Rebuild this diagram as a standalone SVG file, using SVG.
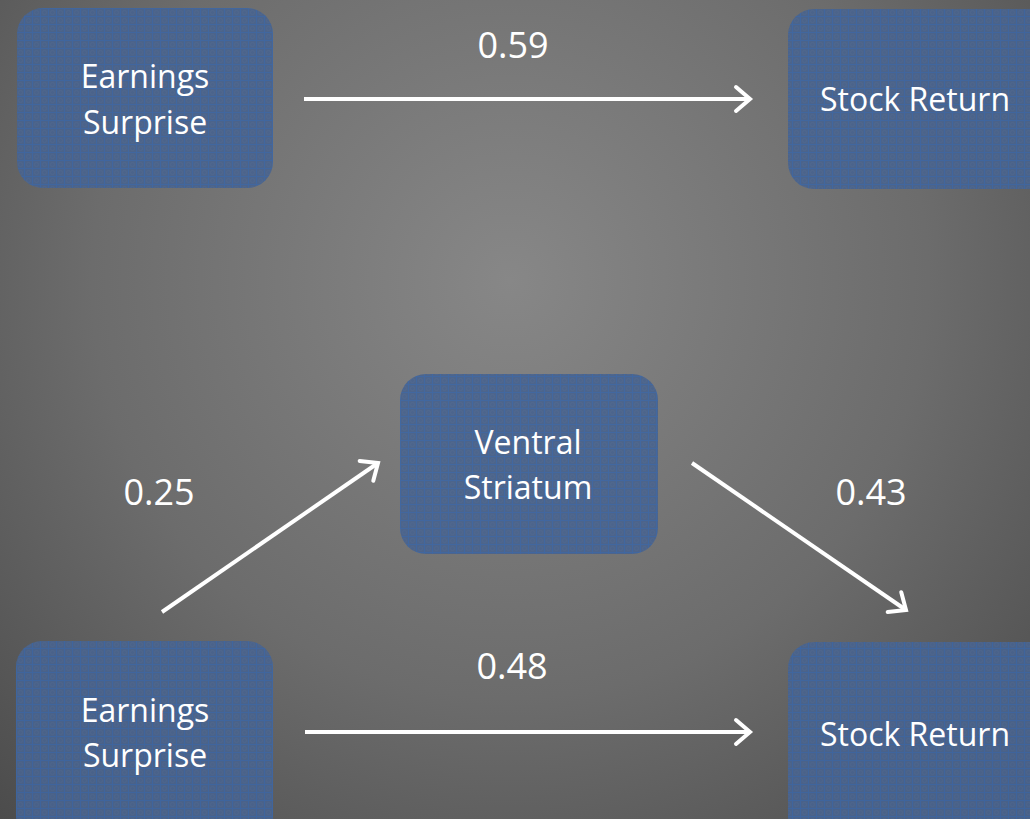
<svg xmlns="http://www.w3.org/2000/svg" width="1030" height="819" viewBox="0 0 1030 819">
<defs>
<radialGradient id="bg" cx="510" cy="280" r="760" gradientUnits="userSpaceOnUse">
<stop offset="0" stop-color="#878787"/>
<stop offset="0.55" stop-color="#6c6c6c"/>
<stop offset="1" stop-color="#4a4a4a"/>
</radialGradient>
<pattern id="grid" width="8" height="8" patternUnits="userSpaceOnUse">
<rect width="8" height="8" fill="#48638e"/>
<path d="M0 0.5H8M0.5 0V8" stroke="#3d66a3" stroke-width="1"/>
<circle cx="4.5" cy="4.5" r="2" fill="none" stroke="#506890" stroke-width="0.6"/>
</pattern>
<marker id="arr" markerUnits="userSpaceOnUse" markerWidth="40" markerHeight="40" refX="20" refY="20" orient="auto" overflow="visible">
<path d="M6 8 L20 20 L6 32" fill="none" stroke="#fff" stroke-width="4" stroke-linecap="round" stroke-linejoin="miter"/>
</marker>
</defs>
<style>
.box{fill:url(#grid);opacity:0.92}
.t{font-family:"Open Sans","Liberation Sans",sans-serif;font-size:32px;fill:#fff;text-anchor:middle}
.n{font-family:"Open Sans","Liberation Sans",sans-serif;font-size:36px;fill:#fff;text-anchor:middle}
.c{stroke:#fff;stroke-width:4;fill:none;marker-end:url(#arr)}
</style>
<rect width="1030" height="819" fill="url(#bg)"/>
<g id="n1"><rect class="box" x="17" y="8" width="256" height="180" rx="26"/><text class="t" x="145" y="88">Earnings</text><text class="t" x="145" y="134">Surprise</text></g>
<g id="n2"><rect class="box" x="788" y="9" width="270" height="180" rx="26"/><text class="t" x="915" y="111">Stock Return</text></g>
<g id="n3"><rect class="box" x="400" y="374" width="258" height="180" rx="26"/><text class="t" x="528" y="454">Ventral</text><text class="t" x="528" y="499">Striatum</text></g>
<g id="n4"><rect class="box" x="16" y="641" width="257" height="200" rx="26"/><text class="t" x="145" y="722">Earnings</text><text class="t" x="145" y="767">Surprise</text></g>
<g id="n5"><rect class="box" x="788" y="642" width="270" height="200" rx="26"/><text class="t" x="915" y="746">Stock Return</text></g>
<g id="connectors">
<line class="c" x1="304" y1="99" x2="750" y2="99"/>
<line class="c" x1="305" y1="732" x2="750" y2="732"/>
<line class="c" x1="162" y1="612" x2="378" y2="463"/>
<line class="c" x1="692" y1="463" x2="906" y2="610"/>
</g>
<g id="labels">
<text class="n" x="513" y="58">0.59</text>
<text class="n" x="159" y="505">0.25</text>
<text class="n" x="871" y="505">0.43</text>
<text class="n" x="512" y="679">0.48</text>
</g>
</svg>
